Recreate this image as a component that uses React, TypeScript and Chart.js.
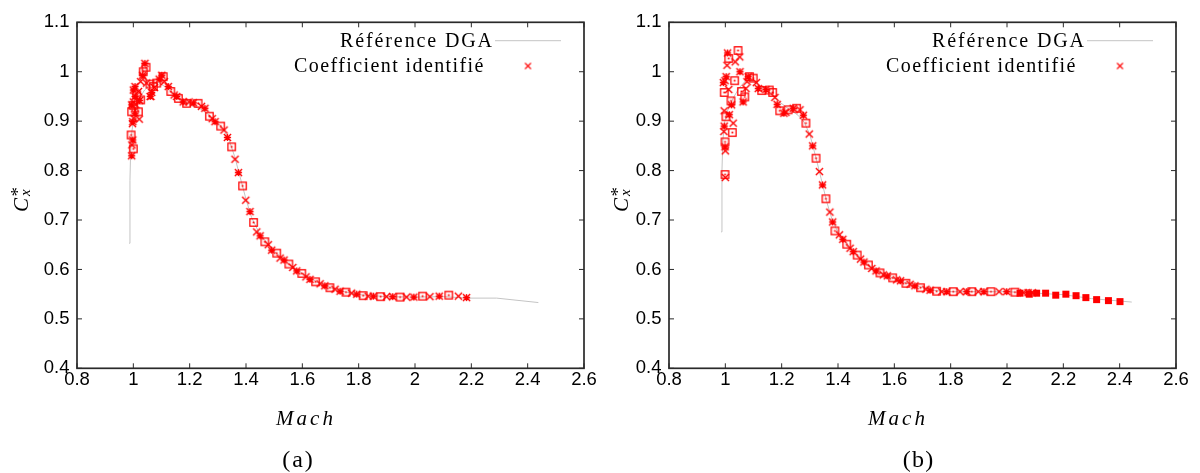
import React, { useEffect, useRef } from "react";
import { Chart, registerables } from "chart.js";

Chart.register(...registerables);

// ---------------- DATA ----------------
const xTicks = [0.8, 1, 1.2, 1.4, 1.6, 1.8, 2, 2.2, 2.4, 2.6];
const xTickLabels = ["0.8", "1", "1.2", "1.4", "1.6", "1.8", "2", "2.2", "2.4", "2.6"];
const yTicks = [0.4, 0.5, 0.6, 0.7, 0.8, 0.9, 1, 1.1];
const yTickLabels = ["0.4", "0.5", "0.6", "0.7", "0.8", "0.9", "1", "1.1"];
const legendRef = "Référence DGA";
const legendCoef = "Coefficient identifié";
const xTitle = "Mach";
const captions = ["(a)", "(b)"];

// Panel (a) — reference curve (Mach, Cx*)
const refA: [number, number][] = [
  [0.985, 0.653], [0.988, 0.78], [0.99, 0.83], [0.995, 0.88], [1.005, 0.92], [1.02, 0.945],
  [1.04, 0.963], [1.06, 0.974], [1.09, 0.978], [1.12, 0.967], [1.15, 0.952], [1.18, 0.94],
  [1.21, 0.931], [1.24, 0.924], [1.27, 0.912], [1.3, 0.896], [1.32, 0.884], [1.34, 0.862],
  [1.36, 0.828], [1.38, 0.785], [1.4, 0.742], [1.42, 0.705], [1.45, 0.67], [1.5, 0.637],
  [1.55, 0.612], [1.6, 0.592], [1.65, 0.575], [1.7, 0.563], [1.75, 0.555], [1.8, 0.549],
  [1.9, 0.545], [2.0, 0.544], [2.1, 0.545], [2.19, 0.542], [2.29, 0.542], [2.438, 0.533],
];
// Panel (a) — identified coefficient, "x" markers
const crossA: [number, number][] = [
  [1.026, 0.98], [1.047, 0.977], [1.018, 0.96], [1.0, 0.939], [1.009, 0.933], [1.021, 0.904],
  [1.002, 0.906], [0.997, 0.895], [0.995, 0.852], [1.035, 0.99], [1.062, 0.95], [1.075, 0.968],
  [1.11, 0.98], [1.145, 0.953], [1.198, 0.939], [1.242, 0.93], [1.28, 0.905], [1.322, 0.882],
  [1.361, 0.823], [1.399, 0.74], [1.438, 0.676], [1.479, 0.65], [1.521, 0.623], [1.566, 0.604],
  [1.613, 0.585], [1.663, 0.571], [1.716, 0.56], [1.775, 0.552], [1.834, 0.546], [1.899, 0.545],
  [1.97, 0.544], [2.053, 0.545], [2.154, 0.546],
];
// Panel (a) — asterisk markers
const starA: [number, number][] = [
  [1.041, 1.017], [1.033, 0.993], [1.006, 0.97], [1.0, 0.963], [1.006, 0.95], [0.994, 0.933],
  [1.006, 0.916], [0.998, 0.899], [0.998, 0.862], [0.994, 0.83], [1.022, 0.942], [1.06, 0.95],
  [1.065, 0.958], [1.092, 0.985], [1.101, 0.993], [1.124, 0.97], [1.154, 0.95], [1.177, 0.939],
  [1.213, 0.937], [1.254, 0.926], [1.29, 0.899], [1.334, 0.867], [1.373, 0.796], [1.414, 0.717],
  [1.45, 0.668], [1.491, 0.639], [1.535, 0.619], [1.58, 0.597], [1.627, 0.58], [1.68, 0.567],
  [1.734, 0.556], [1.793, 0.55], [1.852, 0.546], [1.921, 0.545], [1.996, 0.544], [2.086, 0.546],
  [2.183, 0.543],
];
// Panel (a) — open square markers
const squareA: [number, number][] = [
  [1.045, 1.009], [1.035, 1.0], [1.059, 0.975], [1.012, 0.953], [1.026, 0.943], [1.001, 0.932],
  [0.994, 0.919], [1.018, 0.919], [0.992, 0.872], [1.0, 0.844], [1.071, 0.97], [1.083, 0.977],
  [1.106, 0.99], [1.133, 0.96], [1.16, 0.946], [1.189, 0.936], [1.23, 0.936], [1.27, 0.91],
  [1.31, 0.89], [1.349, 0.848], [1.388, 0.769], [1.427, 0.695], [1.467, 0.656], [1.509, 0.633],
  [1.552, 0.611], [1.598, 0.592], [1.647, 0.575], [1.698, 0.563], [1.755, 0.554], [1.816, 0.547],
  [1.878, 0.545], [1.947, 0.544], [2.027, 0.546], [2.12, 0.548],
];

// Panel (b) — reference curve
const refB: [number, number][] = [
  [0.985, 0.676], [0.988, 0.8], [0.991, 0.86], [0.998, 0.9], [1.01, 0.925], [1.027, 0.946],
  [1.05, 0.968], [1.074, 0.983], [1.1, 0.98], [1.13, 0.967], [1.163, 0.956], [1.19, 0.94],
  [1.222, 0.926], [1.258, 0.912], [1.28, 0.898], [1.3, 0.873], [1.32, 0.83], [1.34, 0.784],
  [1.36, 0.737], [1.38, 0.699], [1.4, 0.675], [1.45, 0.639], [1.5, 0.612], [1.55, 0.594],
  [1.6, 0.581], [1.65, 0.571], [1.7, 0.563], [1.75, 0.557], [1.8, 0.555], [1.9, 0.555],
  [2.0, 0.555], [2.1, 0.552], [2.2, 0.549], [2.3, 0.541], [2.443, 0.534],
];
const crossB: [number, number][] = [
  [1.051, 1.03], [1.035, 1.02], [1.006, 1.013], [1.012, 0.964], [0.999, 0.982], [1.077, 0.98],
  [1.073, 0.966], [0.996, 0.921], [1.028, 0.896], [0.995, 0.879], [1.0, 0.84], [1.0, 0.786],
  [1.11, 0.978], [1.176, 0.948], [1.215, 0.918], [1.265, 0.923], [1.298, 0.874], [1.334, 0.798],
  [1.371, 0.716], [1.405, 0.67], [1.443, 0.643], [1.48, 0.621], [1.52, 0.602], [1.561, 0.589],
  [1.608, 0.579], [1.656, 0.57], [1.712, 0.56], [1.768, 0.555], [1.833, 0.555], [1.898, 0.555],
  [1.972, 0.555], [2.058, 0.553], [2.09, 0.553],
];
const starB: [number, number][] = [
  [1.008, 1.038], [1.052, 1.0], [1.003, 0.99], [0.993, 0.978], [1.063, 0.939], [1.014, 0.913],
  [1.022, 0.933], [0.996, 0.89], [0.999, 0.848], [1.081, 0.99], [1.117, 0.966], [1.144, 0.964],
  [1.184, 0.934], [1.208, 0.916], [1.241, 0.926], [1.277, 0.912], [1.31, 0.85], [1.345, 0.771],
  [1.381, 0.696], [1.417, 0.661], [1.454, 0.636], [1.492, 0.615], [1.535, 0.597], [1.575, 0.587],
  [1.622, 0.577], [1.673, 0.567], [1.727, 0.558], [1.786, 0.555], [1.857, 0.555], [1.918, 0.555],
  [1.999, 0.555], [2.075, 0.553],
];
const squareB: [number, number][] = [
  [1.045, 1.043], [1.012, 1.027], [1.033, 0.982], [0.996, 0.958], [1.057, 0.96], [1.069, 0.949],
  [1.02, 0.941], [1.002, 0.909], [1.025, 0.877], [0.999, 0.858], [0.999, 0.792], [1.086, 0.99],
  [1.099, 0.987], [1.129, 0.962], [1.156, 0.963], [1.168, 0.958], [1.193, 0.921], [1.223, 0.923],
  [1.253, 0.926], [1.286, 0.896], [1.322, 0.825], [1.357, 0.743], [1.389, 0.678], [1.431, 0.651],
  [1.468, 0.629], [1.508, 0.609], [1.549, 0.593], [1.594, 0.583], [1.641, 0.572], [1.693, 0.563],
  [1.75, 0.556], [1.809, 0.555], [1.875, 0.555], [1.943, 0.555], [2.028, 0.554],
];
const filledB: [number, number][] = [
  [2.046, 0.552], [2.079, 0.55], [2.105, 0.552], [2.137, 0.552], [2.173, 0.548], [2.209, 0.55],
  [2.245, 0.547], [2.28, 0.543], [2.318, 0.539], [2.36, 0.537], [2.401, 0.535],
];

// ---------------- STYLE ----------------
const RED = "#ff0000";
const GRAY = "#c4c4c4";
const FRAME = "#2a2a2a";
const SANS = '"Liberation Sans", Arial, Helvetica, sans-serif';
const SERIF = '"Liberation Serif", "Times New Roman", serif';

type Panel = {
  ref: [number, number][];
  cross: [number, number][];
  star: [number, number][];
  square: [number, number][];
  filled: [number, number][];
  yAxisWidth: number;
  padRight: number;
  yTitleX: number;
  captionX: number;
  caption: string;
};

const panels: Panel[] = [
  { ref: refA, cross: crossA, star: starA, square: squareA, filled: [], yAxisWidth: 77, padRight: 16, yTitleX: 28, captionX: 297.5, caption: captions[0] },
  { ref: refB, cross: crossB, star: starB, square: squareB, filled: filledB, yAxisWidth: 69, padRight: 24, yTitleX: 28, captionX: 318, caption: captions[1] },
];

function makeMarker(kind: "cross" | "star" | "square" | "filled" | "legend"): HTMLCanvasElement {
  const c = document.createElement("canvas");
  c.width = 13;
  c.height = 13;
  const g = c.getContext("2d")!;
  g.strokeStyle = RED;
  g.fillStyle = RED;
  g.lineWidth = 1.35;
  const m = 6.5;
  const h = kind === "legend" ? 3 : 3.6;
  if (kind === "cross" || kind === "star" || kind === "legend") {
    if (kind === "legend") g.lineWidth = 1.1;
    g.beginPath();
    g.moveTo(m - h, m - h);
    g.lineTo(m + h, m + h);
    g.moveTo(m - h, m + h);
    g.lineTo(m + h, m - h);
    if (kind === "star") {
      g.moveTo(m - h, m);
      g.lineTo(m + h, m);
      g.moveTo(m, m - h);
      g.lineTo(m, m + h);
    }
    g.stroke();
  } else if (kind === "square") {
    g.lineWidth = 1.3;
    g.strokeRect(2.8, 2.8, 7.4, 7.4);
    g.fillRect(5.6, 5.6, 1.8, 1.8);
  } else {
    g.fillRect(3, 3, 7, 7);
  }
  return c;
}

const toXY = (arr: [number, number][]) => arr.map(([x, y]) => ({ x, y }));

function spacedText(ctx: CanvasRenderingContext2D, text: string, x: number, y: number, targetW: number, align: "left" | "center" | "right") {
  const anyCtx = ctx as any;
  anyCtx.letterSpacing = "0px";
  const w0 = ctx.measureText(text).width;
  const n = Array.from(text).length;
  const sp = n > 1 ? (targetW - w0) / (n - 1) : 0;
  anyCtx.letterSpacing = sp.toFixed(2) + "px";
  const left = align === "center" ? x - targetW / 2 : align === "right" ? x - targetW : x;
  ctx.textAlign = "left";
  ctx.fillText(text, left, y);
  anyCtx.letterSpacing = "0px";
}

const decorPlugin = {
  id: "decor",
  afterDraw(chart: any, _args: any, opts: any) {
    const { ctx, chartArea: a, scales } = chart;
    const xs = scales.x;
    const ys = scales.y;
    ctx.save();
    // inward ticks on all four sides
    ctx.strokeStyle = FRAME;
    ctx.lineWidth = 1;
    ctx.beginPath();
    for (const v of xTicks) {
      const px = xs.getPixelForValue(v);
      ctx.moveTo(px, a.bottom);
      ctx.lineTo(px, a.bottom - 5);
      ctx.moveTo(px, a.top);
      ctx.lineTo(px, a.top + 5);
    }
    for (const v of yTicks) {
      const py = ys.getPixelForValue(v);
      ctx.moveTo(a.left, py);
      ctx.lineTo(a.left + 5, py);
      ctx.moveTo(a.right, py);
      ctx.lineTo(a.right - 5, py);
    }
    ctx.stroke();
    // frame
    ctx.lineWidth = 1.7;
    ctx.strokeRect(a.left, a.top, a.right - a.left, a.bottom - a.top);

    // legend
    ctx.fillStyle = "#000";
    ctx.textBaseline = "alphabetic";
    ctx.font = `20px ${SERIF}`;
    spacedText(ctx, legendRef, a.right - 244, a.top + 24.4, 152, "left");
    spacedText(ctx, legendCoef, a.right - 290, a.top + 49.4, 189.5, "left");
    ctx.strokeStyle = GRAY;
    ctx.lineWidth = 1;
    ctx.beginPath();
    ctx.moveTo(a.right - 89, a.top + 18.4);
    ctx.lineTo(a.right - 23, a.top + 18.4);
    ctx.stroke();
    const mk = opts.legendMarker as HTMLCanvasElement;
    ctx.drawImage(mk, a.right - 56 - mk.width / 2, a.top + 43.7 - mk.height / 2);

    // x title
    ctx.fillStyle = "#000";
    ctx.font = `italic 21px ${SERIF}`;
    spacedText(ctx, xTitle, (a.left + a.right) / 2 - 26, 425, 57, "center");

    // caption
    ctx.font = `24px ${SERIF}`;
    spacedText(ctx, opts.caption, opts.captionX, 467, 30.5, "center");

    // y title: C with superscript * and subscript x, rotated
    ctx.save();
    ctx.translate(opts.yTitleX, a.top + 189.7);
    ctx.rotate(-Math.PI / 2);
    ctx.textAlign = "left";
    ctx.font = `italic 21px ${SERIF}`;
    ctx.fillText("C", 0, 0);
    const cw = ctx.measureText("C").width;
    ctx.font = `19px ${SERIF}`;
    ctx.fillText("*", cw + 1.5, -4);
    ctx.font = `italic 15px ${SERIF}`;
    ctx.fillText("x", cw + 2, 1.5);
    ctx.restore();

    ctx.restore();
  },
};

function makeConfig(p: Panel, markers: Record<string, HTMLCanvasElement>): any {
  const pointDs = (data: [number, number][], marker: HTMLCanvasElement, label: string) => ({
    label,
    data: toXY(data),
    showLine: false,
    pointStyle: marker,
    pointRadius: 4,
    pointHoverRadius: 4,
    borderColor: RED,
    backgroundColor: RED,
  });
  const datasets: any[] = [
    pointDs(p.cross, markers.cross, legendCoef),
    pointDs(p.star, markers.star, legendCoef),
    pointDs(p.square, markers.square, legendCoef),
  ];
  if (p.filled.length) datasets.push(pointDs(p.filled, markers.filled, legendCoef));
  datasets.push({
    label: legendRef,
    data: toXY(p.ref),
    showLine: true,
    borderColor: GRAY,
    borderWidth: 1,
    pointRadius: 0,
    pointHoverRadius: 0,
    fill: false,
    tension: 0,
    order: 10,
  });
  return {
    type: "scatter",
    data: { datasets },
    plugins: [decorPlugin],
    options: {
      responsive: false,
      maintainAspectRatio: false,
      animation: false,
      events: [],
      layout: { padding: { left: 0, right: p.padRight, top: 22.3, bottom: 0 } },
      plugins: {
        legend: { display: false },
        tooltip: { enabled: false },
        decor: { legendMarker: markers.legend, caption: p.caption, captionX: p.captionX, yTitleX: p.yTitleX },
      },
      scales: {
        x: {
          type: "linear",
          min: 0.8,
          max: 2.6,
          afterBuildTicks: (s: any) => {
            s.ticks = xTicks.map((v) => ({ value: v }));
          },
          afterFit: (s: any) => {
            s.height = 104.7;
          },
          grid: { display: false, drawTicks: false },
          border: { display: false },
          ticks: {
            autoSkip: false,
            maxRotation: 0,
            padding: 1,
            color: "#000",
            font: { family: SANS, size: 18.5 },
            callback: (_v: any, i: number) => xTickLabels[i],
          },
        },
        y: {
          type: "linear",
          min: 0.4,
          max: 1.1,
          afterBuildTicks: (s: any) => {
            s.ticks = yTicks.map((v) => ({ value: v }));
          },
          afterFit: (s: any) => {
            s.width = p.yAxisWidth;
          },
          grid: { display: false, drawTicks: false },
          border: { display: false },
          ticks: {
            autoSkip: false,
            padding: 7.5,
            color: "#000",
            font: { family: SANS, size: 18.5 },
            callback: (_v: any, i: number) => yTickLabels[i],
          },
        },
      },
    },
  };
}

export default function App() {
  const canvasA = useRef<HTMLCanvasElement>(null);
  const canvasB = useRef<HTMLCanvasElement>(null);

  useEffect(() => {
    document.body.style.margin = "0";
    const markers = {
      cross: makeMarker("cross"),
      star: makeMarker("star"),
      square: makeMarker("square"),
      filled: makeMarker("filled"),
      legend: makeMarker("legend"),
    };
    const ca = new Chart(canvasA.current!, makeConfig(panels[0], markers));
    const cb = new Chart(canvasB.current!, makeConfig(panels[1], markers));
    return () => {
      ca.destroy();
      cb.destroy();
    };
  }, []);

  return (
    <div style={{ position: "fixed", left: 0, top: 0, width: 1200, height: 473, background: "#fff", overflow: "hidden" }}>
      <canvas ref={canvasA} width={600} height={473} style={{ position: "absolute", left: 0, top: 0, width: 600, height: 473 }} />
      <canvas ref={canvasB} width={600} height={473} style={{ position: "absolute", left: 600, top: 0, width: 600, height: 473 }} />
    </div>
  );
}
